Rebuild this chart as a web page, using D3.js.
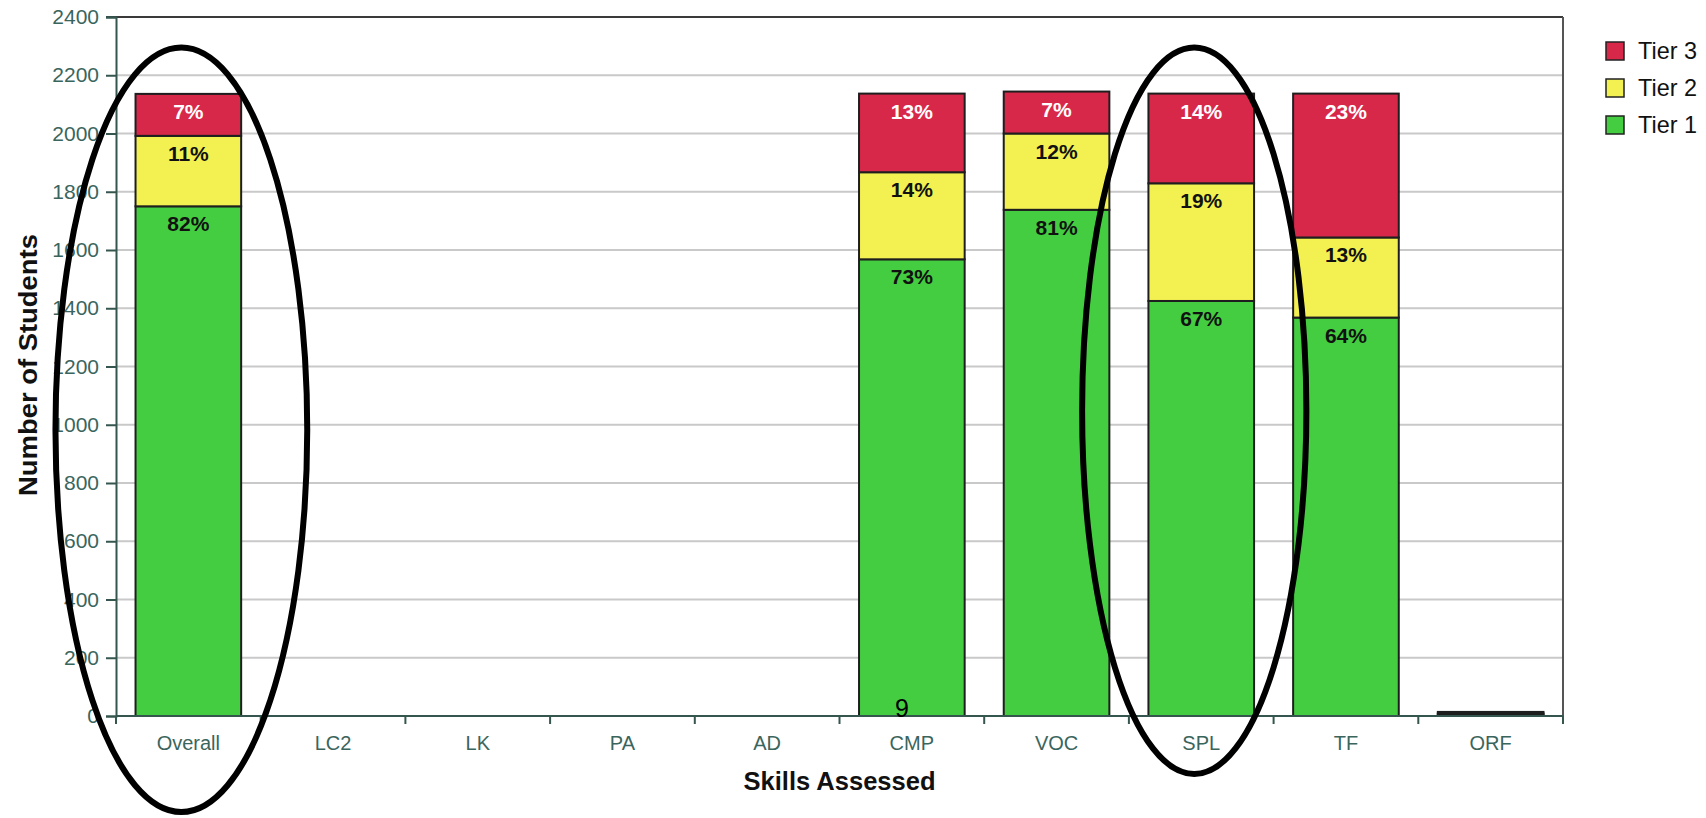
<!DOCTYPE html>
<html>
<head>
<meta charset="utf-8">
<script src="https://cdn.jsdelivr.net/npm/d3@7"></script>
<style>
  html, body { margin: 0; padding: 0; background: #ffffff; }
  svg { display: block; }
  text { font-family: "Liberation Sans", Arial, sans-serif; }
</style>
</head>
<body>
<svg id="chart" width="1706" height="818"></svg>
<script>
// Skills assessed and the number of students in each tier
const categories = ["Overall", "LC2", "LK", "PA", "AD", "CMP", "VOC", "SPL", "TF", "ORF"];
const tier1 = [1750, 0, 0, 0, 0, 1568, 1738, 1425, 1368, 5];
const tier2 = [242, 0, 0, 0, 0, 299, 262, 404, 275, 4];
const tier3 = [144, 0, 0, 0, 0, 270, 144, 308, 494, 5];
const seriesNames = ["Tier 1", "Tier 2", "Tier 3"];
const yTicks = [0, 200, 400, 600, 800, 1000, 1200, 1400, 1600, 1800, 2000, 2200, 2400];
const footnote = "9";

// Hand-drawn circles around two skills (extent in data units)
const highlights = [
  { cat: "Overall", top: 2295, bottom: -330, half: 0.87 },
  { cat: "SPL", top: 2295, bottom: -199, half: 0.775 }
];

const colors = { "Tier 1": "#45cd42", "Tier 2": "#f3f152", "Tier 3": "#d8284a" };
const labelColors = { "Tier 1": "#111111", "Tier 2": "#111111", "Tier 3": "#ffffff" };
const axisColor = "#34564f";
const tickTextColor = "#3a655d";

const svg = d3.select("#chart");
const plot = { left: 116, right: 1563, top: 17, bottom: 716 };

const x = d3.scaleBand()
  .domain(categories)
  .range([plot.left, plot.right])
  .paddingInner(0.27)
  .paddingOuter(0.135);
const step = x.step();
const y = d3.scaleLinear().domain([0, 2400]).range([plot.bottom, plot.top]);

// Gridlines
svg.append("g").selectAll("line")
  .data(yTicks.filter(t => t > 0 && t < 2400))
  .join("line")
  .attr("x1", plot.left).attr("x2", plot.right)
  .attr("y1", d => y(d)).attr("y2", d => y(d))
  .attr("stroke", "#c9c9c9").attr("stroke-width", 2);

// Top frame line and right border
svg.append("line")
  .attr("x1", plot.left - 10).attr("x2", plot.right)
  .attr("y1", y(2400)).attr("y2", y(2400))
  .attr("stroke", "#3a3a3a").attr("stroke-width", 2);
svg.append("line")
  .attr("x1", plot.right).attr("x2", plot.right)
  .attr("y1", y(2400)).attr("y2", plot.bottom + 8)
  .attr("stroke", "#555555").attr("stroke-width", 2);

// Stack the tiers
const rows = categories.map((c, i) => ({ cat: c, "Tier 1": tier1[i], "Tier 2": tier2[i], "Tier 3": tier3[i] }));
const stack = d3.stack().keys(seriesNames)(rows);

const gBars = svg.append("g");
stack.forEach(layer => {
  const key = layer.key;
  const segs = layer.map(d => ({ key, cat: d.data.cat, y0: d[0], y1: d[1],
    total: d.data["Tier 1"] + d.data["Tier 2"] + d.data["Tier 3"] }))
    .filter(d => d.y1 - d.y0 > 0);
  gBars.selectAll(null).data(segs).join("rect")
    .attr("x", d => x(d.cat))
    .attr("width", x.bandwidth())
    .attr("y", d => y(d.y1))
    .attr("height", d => y(d.y0) - y(d.y1))
    .attr("fill", colors[key])
    .attr("stroke", "#1e1e1e")
    .attr("stroke-width", 2);
  // Percentage labels near the top of each segment
  gBars.selectAll(null).data(segs.filter(d => y(d.y0) - y(d.y1) > 20)).join("text")
    .attr("x", d => x(d.cat) + x.bandwidth() / 2)
    .attr("y", d => y(d.y1) + 25)
    .attr("text-anchor", "middle")
    .attr("font-size", 21)
    .attr("font-weight", "bold")
    .attr("fill", labelColors[key])
    .text(d => Math.round((d.y1 - d.y0) / d.total * 100) + "%");
});

// Y axis
const yAxis = d3.axisLeft(y).tickValues(yTicks).tickFormat(d3.format("d")).tickSize(10).tickPadding(7);
const gy = svg.append("g").attr("transform", `translate(${plot.left},0)`).call(yAxis);
gy.select(".domain").attr("stroke", axisColor).attr("stroke-width", 2);
gy.selectAll(".tick line").attr("stroke", axisColor).attr("stroke-width", 2);
gy.selectAll(".tick text").attr("fill", tickTextColor).attr("font-size", 21)
  .attr("font-family", "Liberation Sans, Arial, sans-serif");

// X axis: baseline with ticks at band boundaries
svg.append("line")
  .attr("x1", plot.left).attr("x2", plot.right)
  .attr("y1", plot.bottom).attr("y2", plot.bottom)
  .attr("stroke", axisColor).attr("stroke-width", 2);
svg.append("g").selectAll("line")
  .data(d3.range(categories.length + 1))
  .join("line")
  .attr("x1", i => plot.left + i * step).attr("x2", i => plot.left + i * step)
  .attr("y1", plot.bottom).attr("y2", plot.bottom + 8)
  .attr("stroke", axisColor).attr("stroke-width", 2);
svg.append("g").selectAll("text")
  .data(categories)
  .join("text")
  .attr("x", d => x(d) + x.bandwidth() / 2)
  .attr("y", plot.bottom + 34)
  .attr("text-anchor", "middle")
  .attr("font-size", 20)
  .attr("fill", tickTextColor)
  .text(d => d);

// Axis titles
svg.append("text")
  .attr("x", (plot.left + plot.right) / 2)
  .attr("y", 790)
  .attr("text-anchor", "middle")
  .attr("font-size", 25)
  .attr("font-weight", "bold")
  .attr("fill", "#111111")
  .attr("textLength", 192)
  .attr("lengthAdjust", "spacingAndGlyphs")
  .text("Skills Assessed");
svg.append("text")
  .attr("transform", `translate(37,365) rotate(-90)`)
  .attr("text-anchor", "middle")
  .attr("font-size", 26)
  .attr("font-weight", "bold")
  .attr("fill", "#111111")
  .attr("textLength", 262)
  .attr("lengthAdjust", "spacingAndGlyphs")
  .text("Number of Students");

// Legend
const legendItems = ["Tier 3", "Tier 2", "Tier 1"];
const gLeg = svg.append("g").attr("transform", "translate(1606,42)");
legendItems.forEach((k, i) => {
  const g = gLeg.append("g").attr("transform", `translate(0,${i * 37})`);
  g.append("rect").attr("width", 18).attr("height", 18)
    .attr("fill", colors[k]).attr("stroke", "#222").attr("stroke-width", 1.5);
  g.append("text").attr("x", 32).attr("y", 17)
    .attr("font-size", 24).attr("fill", "#111")
    .attr("textLength", 59).attr("lengthAdjust", "spacingAndGlyphs")
    .text(k);
});

// Stray page number
svg.append("text")
  .attr("x", x("CMP") + x.bandwidth() / 2 - 10)
  .attr("y", plot.bottom + 1)
  .attr("text-anchor", "middle")
  .attr("font-size", 25)
  .attr("fill", "#000")
  .text(footnote);

// Circles drawn around highlighted skills
svg.append("g").selectAll("ellipse")
  .data(highlights)
  .join("ellipse")
  .attr("cx", d => x(d.cat) + x.bandwidth() / 2 - 7)
  .attr("cy", d => (y(d.top) + y(d.bottom)) / 2)
  .attr("rx", d => d.half * step)
  .attr("ry", d => (y(d.bottom) - y(d.top)) / 2)
  .attr("fill", "none")
  .attr("stroke", "#000")
  .attr("stroke-width", 6);
</script>
</body>
</html>
